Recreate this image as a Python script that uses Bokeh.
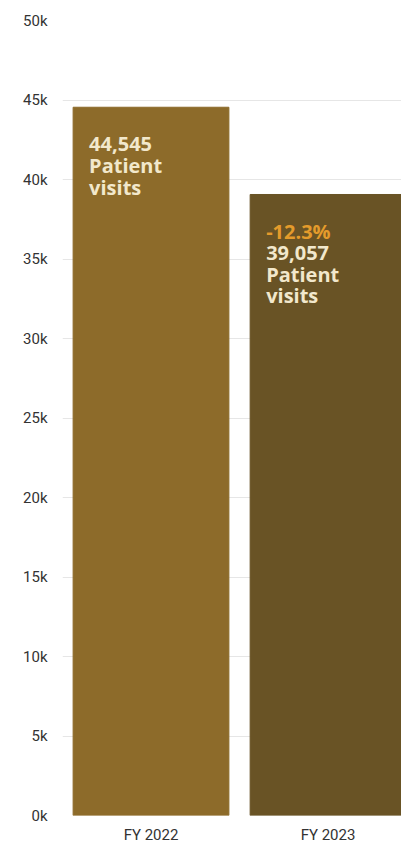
from bokeh.plotting import figure
from bokeh.models import ColumnDataSource, Range1d, FixedTicker
from bokeh.core.properties import value
from bokeh.embed import file_html
from bokeh.resources import INLINE

# ---- data ----
categories = ["FY 2022", "FY 2023"]
visits = [44545, 39057]
bar_colors = ["#8D6B2A", "#695325"]
y_ticks = [0, 5000, 10000, 15000, 20000, 25000, 30000, 35000, 40000, 45000, 50000]
y_tick_labels = ["0k", "5k", "10k", "15k", "20k", "25k", "30k", "35k", "40k", "45k", "50k"]
label_unit = ["Patient", "visits"]

BAR_W = 0.88
xs = [i + 0.5 for i in range(len(categories))]

p = figure(width=401, height=846, output_backend="svg", toolbar_location=None,
           x_range=Range1d(0, 1.915), y_range=Range1d(0, 50000),
           min_border_left=62, min_border_right=0, min_border_top=20, min_border_bottom=30)
p.outline_line_color = None
p.background_fill_color = "white"
p.border_fill_color = "white"

src = ColumnDataSource(dict(x=xs, top=visits, color=bar_colors))
p.vbar(x="x", top="top", width=BAR_W, bottom=0, color="color", source=src)

# labels inside bars
lx, ly, lt, loff, lcol = [], [], [], [], []
LH = 21.5
for i, (x, v) in enumerate(zip(xs, visits)):
    left = x - BAR_W / 2
    off = 37
    if i > 0:
        pct = (v - visits[i - 1]) / visits[i - 1] * 100
        lx.append(left); ly.append(v); lt.append(f"{pct:.1f}%"); loff.append(off); lcol.append("#E49B2B")
        off += LH
    for t in [f"{v:,}"] + label_unit:
        lx.append(left); ly.append(v); lt.append(t); loff.append(off); lcol.append("#F2E8CC")
        off += LH
lsrc = ColumnDataSource(dict(x=lx, y=ly, text=lt, off=loff, color=lcol))
p.text(x="x", y="y", text="text", x_offset=16, y_offset="off", text_color="color",
       text_font=value("Open Sans"), text_font_style="bold", text_font_size="20px",
       text_baseline="alphabetic", text_align="left", source=lsrc)

# axes
p.yaxis.ticker = FixedTicker(ticks=y_ticks)
p.yaxis.major_label_overrides = {t: l for t, l in zip(y_ticks, y_tick_labels)}
p.xaxis.ticker = FixedTicker(ticks=xs)
p.xaxis.major_label_overrides = {x: c for x, c in zip(xs, categories)}
for ax in (p.xaxis, p.yaxis):
    ax.axis_line_color = None
    ax.major_tick_line_color = None
    ax.minor_tick_line_color = None
    ax.major_tick_out = 0
    ax.major_tick_in = 0
    ax.major_label_text_font = "Roboto"
    ax.major_label_text_font_size = "15px"
    ax.major_label_text_color = "#333333"
p.yaxis.major_label_standoff = 15
p.xaxis.major_label_standoff = 10
p.xgrid.grid_line_color = None
p.ygrid.ticker = FixedTicker(ticks=y_ticks)
p.ygrid.grid_line_color = "#e6e6e6"
p.ygrid.grid_line_width = 1

open("out.html", "w").write(file_html(p, INLINE))
